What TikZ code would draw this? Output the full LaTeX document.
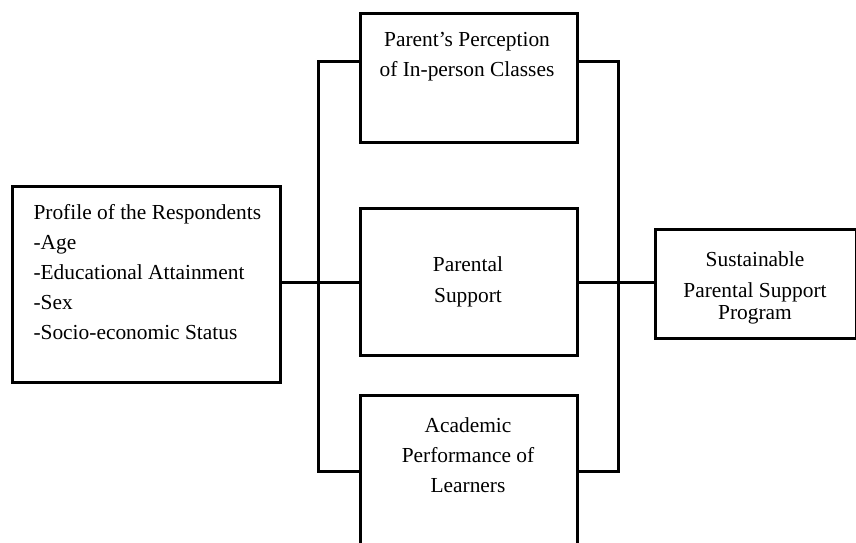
\documentclass[tikz,border=0pt]{standalone}
\usepackage{fontspec}
\setmainfont{Liberation Serif}
\begin{document}
\begin{tikzpicture}[x=0.5pt,y=-0.5pt,line width=1.5pt,
  box/.style={draw, rectangle, inner sep=0pt, anchor=north west},
  txt/.style={font=\fontsize{10.7}{15}\selectfont, align=center, inner sep=0pt},
  link/.style={line width=1.5pt}]
\useasboundingbox (0,0) rectangle (856,542);
\clip (0,0) rectangle (856,542);
% boxes
\node[box, minimum width=134pt, minimum height=98pt] (L) at (11,185) {};
\node[box, minimum width=108.5pt, minimum height=64.5pt] (T) at (359,12) {};
\node[box, minimum width=108.5pt, minimum height=73.5pt] (M) at (359,207) {};
\node[box, minimum width=108.5pt, minimum height=93pt] (B) at (359,394) {};
\node[box, minimum width=100.5pt, minimum height=54.5pt] (R) at (654,228) {};
% texts
\node[txt, align=left, anchor=west, font=\fontsize{10.7}{15.1}\selectfont] (Lt) at (32,272) {Profile of the Respondents\\-Age\\-Educational Attainment\\-Sex\\-Socio-economic Status};
\node[txt] (Tt) at (467,57) {Parent’s Perception\\of In-person Classes};
\node[txt, font=\fontsize{10.7}{15.5}\selectfont] (Mt) at (468,282) {Parental\\Support};
\node[txt] (Bt) at (468,455) {Academic\\Performance of\\Learners};
\node[txt] (Rt) at (755,288) {Sustainable\\[0.5pt]Parental Support\\[-4pt]Program};
% connectors
\coordinate (ltop) at (318,61);
\coordinate (lbot) at (318,471);
\coordinate (rtop) at (618,61);
\coordinate (rbot) at (618,471);
\coordinate (midy) at (0,282);
\draw[link] (T.west |- ltop) -- (ltop) -- (lbot) -- (B.west |- lbot);
\draw[link] (T.east |- rtop) -- (rtop) -- (rbot) -- (B.east |- rbot);
\draw[link] (L.east |- midy) -- (M.west |- midy);
\draw[link] (M.east |- midy) -- (R.west |- midy);
\end{tikzpicture}
\end{document}
